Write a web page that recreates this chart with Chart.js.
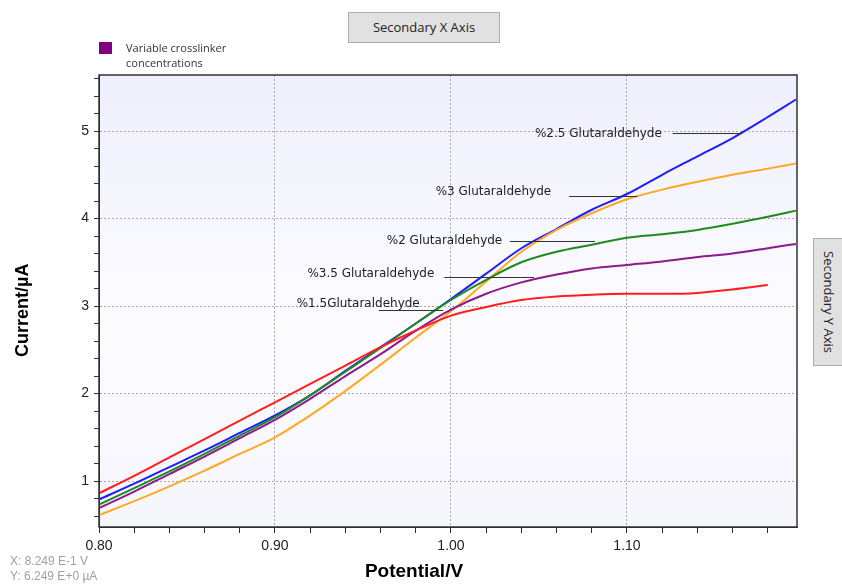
<!DOCTYPE html>
<html>
<head>
<meta charset="utf-8">
<script src="https://cdn.jsdelivr.net/npm/chart.js@4.4.1/dist/chart.umd.min.js"></script>
<style>
  body { margin: 0; background: #fff; overflow: hidden; }
  #wrap { position: relative; width: 842px; height: 585px; }
  #chart { position: absolute; left: 0; top: 0; }
  .ovl { position: absolute; white-space: nowrap; }
  #btnX {
    left: 348px; top: 12px; width: 150px; height: 29px;
    background: #e1e1e1; border: 1px solid #adadad;
    font: 13px "Open Sans", sans-serif; color: #222;
    text-align: center; line-height: 29px;
  }
  #btnY {
    left: 813px; top: 238px; width: 30px; height: 126px;
    background: #e1e1e1; border: 1px solid #adadad; border-right: none;
    font: 13px "Open Sans", sans-serif; color: #222;
    writing-mode: vertical-rl; text-align: center; line-height: 30px;
  }
  #legBox { left: 99px; top: 42px; width: 13px; height: 12px; background: #800080; }
  #legText { left: 126px; top: 40px; font: 11px "Open Sans", sans-serif; color: #333; line-height: 15px; }
  #xTitle { left: 314px; top: 559px; width: 200px; text-align: center;
    font: bold 19px "Liberation Sans", Arial, sans-serif; color: #000; line-height: 24px; }
  #yTitle { left: 10px; top: 260px; height: 100px; writing-mode: vertical-rl; transform: rotate(180deg);
    text-align: center; font: bold 18px "Liberation Sans", Arial, sans-serif; color: #000; line-height: 24px; }
  #status { left: 10px; top: 554px; font: 12px "Liberation Sans", Arial, sans-serif; color: #a0a0a0; line-height: 15px; }
</style>
</head>
<body>
<div id="wrap">
  <canvas id="chart" width="842" height="585"></canvas>
  <div class="ovl" id="btnX">Secondary X Axis</div>
  <div class="ovl" id="btnY">Secondary Y Axis</div>
  <div class="ovl" id="legBox"></div>
  <div class="ovl" id="legText">Variable crosslinker<br>concentrations</div>
  <div class="ovl" id="xTitle">Potential/V</div>
  <div class="ovl" id="yTitle">Current/µA</div>
  <div class="ovl" id="status">X: 8.249 E-1 V<br>Y: 6.249 E+0 µA</div>
</div>
<script>
// potential (V)
const potential = [0.80, 0.82, 0.84, 0.86, 0.88, 0.90, 0.92, 0.94, 0.96, 0.98, 1.00,
  1.02, 1.04, 1.06, 1.08, 1.10, 1.12, 1.14, 1.16, 1.18, 1.196];

// current (uA) per glutaraldehyde concentration
const ga15 = [0.86, 1.06, 1.27, 1.48, 1.69, 1.90, 2.11, 2.32, 2.53, 2.72, 2.89,
  2.99, 3.07, 3.11, 3.13, 3.14, 3.14, 3.15, 3.19, 3.24, null];
const ga2 = [0.73, 0.92, 1.11, 1.31, 1.52, 1.73, 1.98, 2.25, 2.52, 2.80, 3.07,
  3.30, 3.50, 3.62, 3.70, 3.78, 3.82, 3.87, 3.94, 4.02, 4.09];
const ga25 = [0.79, 0.97, 1.16, 1.35, 1.55, 1.75, 1.98, 2.26, 2.53, 2.80, 3.08,
  3.37, 3.66, 3.88, 4.10, 4.28, 4.50, 4.71, 4.92, 5.16, 5.36];
const ga3 = [0.61, 0.77, 0.94, 1.12, 1.31, 1.50, 1.75, 2.03, 2.33, 2.64, 2.94,
  3.28, 3.62, 3.87, 4.06, 4.22, 4.33, 4.42, 4.50, 4.57, 4.63];
const ga35 = [0.69, 0.88, 1.08, 1.28, 1.49, 1.70, 1.94, 2.20, 2.45, 2.72, 2.96,
  3.14, 3.27, 3.36, 3.43, 3.47, 3.51, 3.56, 3.60, 3.66, 3.71];

const seriesNames = ["%1.5Glutaraldehyde", "%3.5 Glutaraldehyde", "%2 Glutaraldehyde", "%3 Glutaraldehyde", "%2.5 Glutaraldehyde"];
const seriesValues = [ga15, ga35, ga2, ga3, ga25];
const seriesColors = ["#ff1e1e", "#8b1a8b", "#1f8a1f", "#ffa824", "#1c1cff"];

// labels written on the plot: text start (x, y) and leader line (x1..x2 at ly), in data units
const labelText = ["%2.5 Glutaraldehyde", "%3 Glutaraldehyde", "%2 Glutaraldehyde", "%3.5 Glutaraldehyde", "%1.5Glutaraldehyde"];
const labelX = [1.0477, 0.9913, 0.9635, 0.9184, 0.9123];
const labelY = [4.97, 4.30, 3.75, 3.37, 3.02];
const lineX1 = [1.126, 1.0672, 1.0335, 0.9962, 0.9591];
const lineX2 = [1.1655, 1.1059, 1.0818, 1.0472, 0.9956];
const lineY = [4.975, 4.26, 3.74, 3.33, 2.96];

const xMin = 0.8, xMax = 1.1966, yMin = 0.475, yMax = 5.64;

const isMajorX = (v) => Math.abs(v * 10 - Math.round(v * 10)) < 1e-6;
const isMajorY = (v) => Math.abs(v - Math.round(v)) < 1e-6;

const plotBg = {
  id: "plotBg",
  beforeDraw(chart) {
    const { ctx, chartArea: a } = chart;
    const g = ctx.createLinearGradient(0, a.top, 0, a.bottom);
    g.addColorStop(0, "#efeffd");
    g.addColorStop(0.55, "#fcfcff");
    g.addColorStop(1, "#f5f5fc");
    ctx.save();
    ctx.fillStyle = g;
    ctx.fillRect(a.left, a.top, a.right - a.left, a.bottom - a.top);
    ctx.restore();
  },
  afterDraw(chart) {
    const { ctx, chartArea: a } = chart;
    ctx.save();
    ctx.strokeStyle = "#333";
    ctx.lineWidth = 1.5;
    ctx.strokeRect(a.left, a.top, a.right - a.left, a.bottom - a.top);
    ctx.restore();
  }
};

const plotLabels = {
  id: "plotLabels",
  afterDatasetsDraw(chart) {
    const { ctx, scales: { x, y } } = chart;
    ctx.save();
    ctx.font = '12px "DejaVu Sans", Verdana, sans-serif';
    ctx.fillStyle = "#222";
    ctx.textBaseline = "middle";
    ctx.strokeStyle = "#333";
    ctx.lineWidth = 1;
    labelText.forEach((t, i) => {
      ctx.fillText(t, x.getPixelForValue(labelX[i]), y.getPixelForValue(labelY[i]));
      const ly = Math.round(y.getPixelForValue(lineY[i])) + 0.5;
      ctx.beginPath();
      ctx.moveTo(x.getPixelForValue(lineX1[i]), ly);
      ctx.lineTo(x.getPixelForValue(lineX2[i]), ly);
      ctx.stroke();
    });
    ctx.restore();
  }
};

const tickFont = { family: '"Liberation Sans", Arial, sans-serif', size: 14 };

new Chart(document.getElementById("chart"), {
  type: "line",
  data: {
    datasets: seriesNames.map((name, i) => ({
      label: name,
      data: potential.map((p, j) => ({ x: p, y: seriesValues[i][j] })),
      borderColor: seriesColors[i],
      borderWidth: 2,
      pointRadius: 0,
      cubicInterpolationMode: "monotone",
      fill: false,
      spanGaps: false
    }))
  },
  options: {
    responsive: false,
    animation: false,
    devicePixelRatio: 1,
    layout: { padding: { top: 75, right: 45, bottom: 0, left: 0 } },
    plugins: { legend: { display: false }, tooltip: { enabled: false } },
    scales: {
      x: {
        type: "linear",
        min: xMin,
        max: xMax,
        afterFit: (s) => { s.height = 58; },
        afterBuildTicks: (s) => {
          const t = [];
          for (let i = 0; i <= 19; i++) t.push({ value: Math.round((0.8 + i * 0.02) * 100) / 100 });
          s.ticks = t;
        },
        ticks: {
          autoSkip: false,
          maxRotation: 0,
          padding: 5,
          color: "#222",
          font: tickFont,
          callback: (v) => (isMajorX(v) ? v.toFixed(2) : "")
        },
        grid: {
          color: (c) => (c.tick && isMajorX(c.tick.value) ? "#a9a9a9" : "rgba(0,0,0,0)"),
          tickColor: "#333",
          tickLength: 6,
          lineWidth: 1
        },
        border: { display: true, color: "#222", width: 1, dash: [2, 2] }
      },
      y: {
        type: "linear",
        min: yMin,
        max: yMax,
        afterFit: (s) => { s.width = 99; },
        afterBuildTicks: (s) => {
          const t = [];
          for (let i = 3; i <= 28; i++) t.push({ value: Math.round(i * 0.2 * 10) / 10 });
          s.ticks = t;
        },
        ticks: {
          autoSkip: false,
          padding: 5,
          color: "#222",
          font: tickFont,
          callback: (v) => (isMajorY(v) ? String(Math.round(v)) : "")
        },
        grid: {
          color: (c) => (c.tick && isMajorY(c.tick.value) ? "#a9a9a9" : "rgba(0,0,0,0)"),
          tickColor: "#333",
          tickLength: 5,
          lineWidth: 1
        },
        border: { display: true, color: "#222", width: 1, dash: [2, 2] }
      }
    }
  },
  plugins: [plotBg, plotLabels]
});
</script>
</body>
</html>
